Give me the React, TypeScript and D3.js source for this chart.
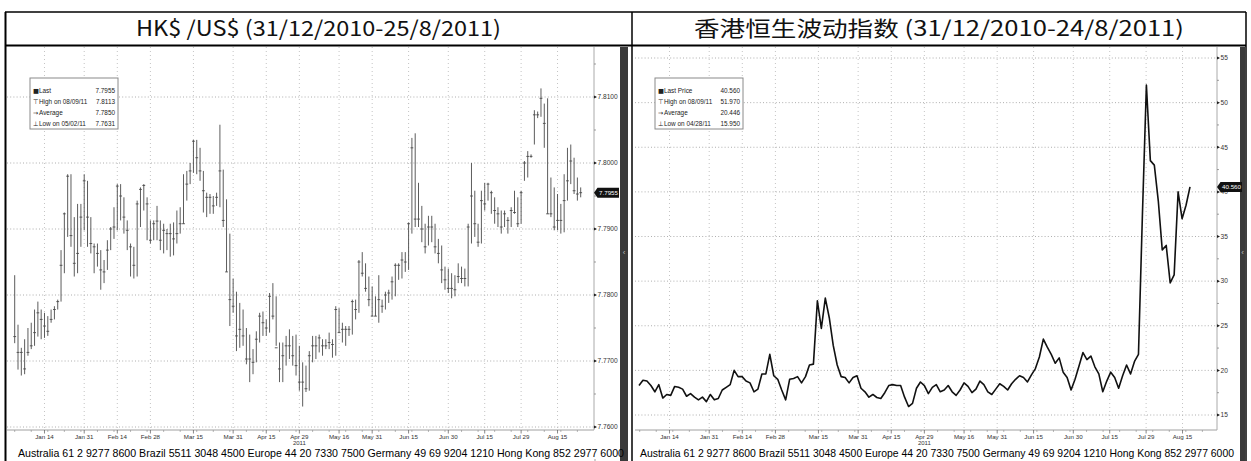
import React from "react";
import * as d3 from "d3";

const W = 1251;
const H = 461;

const leftTitle = "HK$ /US$ (31/12/2010-25/8/2011)";
const rightTitle = "香港恒生波动指数 (31/12/2010-24/8/2011)";
const footer =
  "Australia 61 2 9277 8600 Brazil 5511 3048 4500 Europe 44 20 7330 7500 Germany 49 69 9204 1210 Hong Kong 852 2977 6000";

const xTickLabels = ["Jan 14", "Jan 31", "Feb 14", "Feb 28", "Mar 15", "Mar 31", "Apr 15", "Apr 29", "May 16", "May 31", "Jun 15", "Jun 30", "Jul 15", "Jul 29", "Aug 15"];
const xTickIdx = [9, 21, 31, 41, 54, 66, 76, 86, 98, 108, 119, 131, 142, 153, 164];
const yearLabel = "2011";
const yearTickPos = 7;

// HK$/US$ daily bars (high, low, close)
const hkHigh = [
  7.7830, 7.7755, 7.7720, 7.7733, 7.7750, 7.7758, 7.7778, 7.7790, 7.7778, 7.7773,
  7.7768, 7.7778, 7.7783, 7.7793, 7.7868, 7.7925, 7.7983, 7.7983, 7.7918, 7.7938,
  7.7938, 7.7983, 7.7973, 7.7918, 7.7878, 7.7878, 7.7868, 7.7853, 7.7883, 7.7903,
  7.7933, 7.7968, 7.7968, 7.7948, 7.7913, 7.7878, 7.7873, 7.7943, 7.7963, 7.7968,
  7.7948, 7.7913, 7.7913, 7.7935, 7.7913, 7.7908, 7.7900, 7.7908, 7.7910, 7.7928,
  7.7933, 7.7983, 7.7988, 7.8000, 7.8035, 7.8035, 7.8023, 7.7988,
  7.7955, 7.7953, 7.7950, 7.7955, 7.8058, 7.7990, 7.7945, 7.7893, 7.7825, 7.7805,
  7.7788, 7.7778, 7.7750, 7.7740, 7.7718, 7.7745, 7.7773, 7.7775, 7.7763, 7.7803,
  7.7818, 7.7798, 7.7728, 7.7728, 7.7738, 7.7748, 7.7738, 7.7740, 7.7723, 7.7698,
  7.7693, 7.7715, 7.7738, 7.7738, 7.7740, 7.7733, 7.7733, 7.7743, 7.7733, 7.7783,
  7.7780, 7.7758, 7.7753, 7.7753, 7.7793, 7.7793, 7.7853, 7.7865, 7.7848, 7.7828,
  7.7813, 7.7798, 7.7830, 7.7793, 7.7805, 7.7808, 7.7828, 7.7848,
  7.7848, 7.7865, 7.7865, 7.7910, 7.8038, 7.8045, 7.7970, 7.7935, 7.7908, 7.7920,
  7.7920, 7.7908, 7.7885, 7.7875, 7.7843, 7.7840, 7.7833, 7.7830, 7.7848, 7.7843,
  7.7840, 7.7908, 7.8000, 7.7958, 7.7908, 7.7958, 7.7970, 7.7970, 7.7958, 7.7948,
  7.7933, 7.7928, 7.7928, 7.7918, 7.7933, 7.7958, 7.7948, 7.7958, 7.8003, 7.8018,
  7.8013, 7.8080, 7.8078, 7.8113, 7.8090, 7.8098, 7.7978, 7.7963, 7.7953, 7.7938,
  7.7983, 7.8023, 7.8028, 7.8008, 7.7978, 7.7963,
];
const hkLow = [
  7.7727, 7.7687, 7.7678, 7.7680, 7.7708, 7.7718, 7.7723, 7.7737, 7.7733, 7.7735,
  7.7738, 7.7758, 7.7763, 7.7778, 7.7790, 7.7833, 7.7888, 7.7873, 7.7828, 7.7833,
  7.7873, 7.7898, 7.7873, 7.7863, 7.7833, 7.7843, 7.7808, 7.7818, 7.7838, 7.7868,
  7.7885, 7.7898, 7.7913, 7.7893, 7.7868, 7.7828, 7.7825, 7.7828, 7.7903, 7.7928,
  7.7883, 7.7878, 7.7883, 7.7883, 7.7868, 7.7863, 7.7868, 7.7858, 7.7860, 7.7878,
  7.7893, 7.7908, 7.7943, 7.7968, 7.7985, 7.7983, 7.7973, 7.7925,
  7.7918, 7.7923, 7.7923, 7.7935, 7.7933, 7.7903, 7.7835, 7.7753, 7.7773, 7.7715,
  7.7720, 7.7723, 7.7695, 7.7668, 7.7680, 7.7698, 7.7728, 7.7738, 7.7738, 7.7743,
  7.7763, 7.7723, 7.7668, 7.7668, 7.7693, 7.7703, 7.7693, 7.7678, 7.7655, 7.7631,
  7.7653, 7.7655, 7.7698, 7.7703, 7.7713, 7.7708, 7.7718, 7.7718, 7.7705, 7.7708,
  7.7743, 7.7728, 7.7723, 7.7738, 7.7740, 7.7763, 7.7773, 7.7828, 7.7805, 7.7783,
  7.7768, 7.7768, 7.7758, 7.7773, 7.7778, 7.7788, 7.7793, 7.7798,
  7.7823, 7.7825, 7.7835, 7.7838, 7.7893, 7.7903, 7.7903, 7.7880, 7.7863, 7.7875,
  7.7880, 7.7863, 7.7848, 7.7818, 7.7808, 7.7803, 7.7795, 7.7798, 7.7818, 7.7818,
  7.7813, 7.7813, 7.7878, 7.7888, 7.7873, 7.7878, 7.7928, 7.7943, 7.7923, 7.7908,
  7.7903, 7.7893, 7.7903, 7.7893, 7.7903, 7.7923, 7.7903, 7.7908, 7.7973, 7.7978,
  7.8008, 7.8028, 7.8068, 7.8070, 7.8023, 7.7923, 7.7918, 7.7898, 7.7898, 7.7893,
  7.7895, 7.7943, 7.7968, 7.7953, 7.7943, 7.7948,
];
const hkClose = [
  7.7737, 7.7713, 7.7713, 7.7688, 7.7713, 7.7723, 7.7743, 7.7773, 7.7763, 7.7753,
  7.7745, 7.7763, 7.7778, 7.7790, 7.7845, 7.7923, 7.7980, 7.7890, 7.7848, 7.7863,
  7.7918, 7.7973, 7.7918, 7.7878, 7.7873, 7.7863, 7.7838, 7.7835, 7.7868, 7.7900,
  7.7903, 7.7965, 7.7950, 7.7918, 7.7898, 7.7873, 7.7845, 7.7938, 7.7960, 7.7966,
  7.7938, 7.7883, 7.7908, 7.7912, 7.7883, 7.7898, 7.7893, 7.7893, 7.7885, 7.7893,
  7.7908, 7.7908, 7.7968, 7.7988, 7.8033, 7.8008, 7.7988, 7.7958,
  7.7948, 7.7948, 7.7935, 7.7948, 7.7988, 7.7913, 7.7835, 7.7793, 7.7783, 7.7738,
  7.7748, 7.7738, 7.7703, 7.7703, 7.7698, 7.7733, 7.7768, 7.7758, 7.7750, 7.7798,
  7.7768, 7.7720, 7.7688, 7.7708, 7.7723, 7.7723, 7.7708, 7.7693, 7.7668, 7.7668,
  7.7658, 7.7708, 7.7723, 7.7723, 7.7735, 7.7723, 7.7723, 7.7728, 7.7725, 7.7778,
  7.7743, 7.7748, 7.7748, 7.7748, 7.7790, 7.7778, 7.7850, 7.7833, 7.7810, 7.7793,
  7.7768, 7.7768, 7.7793, 7.7783, 7.7800, 7.7803, 7.7820, 7.7845,
  7.7845, 7.7853, 7.7850, 7.7908, 7.8023, 7.7915, 7.7915, 7.7900, 7.7873, 7.7903,
  7.7903, 7.7873, 7.7863, 7.7838, 7.7823, 7.7810, 7.7810, 7.7808, 7.7828, 7.7825,
  7.7825, 7.7903, 7.7950, 7.7908, 7.7880, 7.7943, 7.7938, 7.7968, 7.7955, 7.7928,
  7.7923, 7.7903, 7.7923, 7.7913, 7.7928, 7.7925, 7.7908, 7.7955, 7.8000, 7.8010,
  7.8010, 7.8073, 7.8073, 7.8098, 7.8060, 7.7923, 7.7923, 7.7903, 7.7913, 7.7913,
  7.7943, 7.7973, 7.8003, 7.7958, 7.7953, 7.7955,
];
const hkTicks = [7.76, 7.77, 7.78, 7.79, 7.8, 7.81];
const hkTickText = ["7.7600", "7.7700", "7.7800", "7.7900", "7.8000", "7.8100"];
const hkLast = 7.7955;
const hkLastText = "7.7955";
const hkLegend = [
  ["■", "Last", "7.7955"],
  ["⊤", "High on 08/09/11", "7.8113"],
  ["→", "Average", "7.7850"],
  ["⊥", "Low on 05/02/11", "7.7631"],
];

// HSI volatility index
const vhsi = [
  18.3, 18.9, 18.8, 18.3, 17.6, 18.4, 16.9, 17.3, 17.2, 18.2,
  18.1, 17.9, 17.1, 17.4, 17.0, 16.7, 17.0, 16.5, 17.3, 16.7,
  16.85, 17.8, 18.1, 18.4, 20.0, 19.3, 19.3, 18.8, 18.6, 17.6,
  17.9, 19.6, 19.6, 21.8, 19.4, 19.0, 17.8, 16.7, 19.0, 19.1,
  19.3, 18.6, 19.3, 20.6, 20.7, 27.8, 24.7, 28.1, 25.9, 22.8,
  20.6, 19.3, 19.2, 18.6, 19.2, 19.4, 18.0, 17.6, 17.0, 17.3,
  16.96, 16.85, 17.5, 18.3, 18.4, 18.3, 18.3, 17.0, 15.95, 16.3,
  18.0, 18.7, 18.3, 17.4, 18.1, 18.4, 17.6,
  17.8, 18.3, 17.6, 17.2, 17.8, 18.6, 18.2, 17.5, 17.9, 18.8,
  18.4, 17.6, 17.3, 17.9, 18.5,
  18.2, 17.8, 18.5, 19.0, 19.4, 19.2, 18.7, 19.5, 20.2,
  21.5, 23.5, 22.6, 21.8,
  20.8, 21.4, 19.8, 19.2, 17.8,
  19.0, 20.5, 22.0, 21.2, 21.6, 20.4, 19.6,
  17.6, 18.8, 19.8, 19.2, 18.0, 19.4, 20.6, 19.6, 21.0, 21.8,
  37.5, 51.97,
  43.5, 43.0, 39.0, 33.5, 34.0, 29.8, 30.7, 40.0, 37.0, 38.5, 40.56,
];
const vTicks = [15, 20, 25, 30, 35, 40, 45, 50, 55];
const vLast = 40.56;
const vLastText = "40.560";
const vLegend = [
  ["■", "Last Price", "40.560"],
  ["⊤", "High on 08/09/11", "51.970"],
  ["→", "Average", "20.446"],
  ["⊥", "Low on 04/28/11", "15.950"],
];

const SMALL = "'Liberation Sans Narrow', 'Liberation Sans', 'DejaVu Sans Condensed', sans-serif";

type PanelProps = {
  id: string;
  left: number;
  axisX: number;
  top: number;
  bottom: number;
  tickX: (i: number) => number;
  yScale: d3.ScaleLinear<number, number>;
  yTicks: number[];
  yTickText: string[];
  yMinor: number[];
  lastVal: number;
  lastText: string;
  legend: string[][];
  legendX: number;
  legendW: number;
  scrollX: number;
  scrollW: number;
  children: React.ReactNode;
};

function Panel(p: PanelProps) {
  const weekIdx = d3.range(0, 172, 5);
  return (
    <g>
      <defs>
        <clipPath id={`clip-${p.id}`}>
          <rect x={p.left} y={p.top} width={p.axisX - p.left} height={p.bottom - p.top} />
        </clipPath>
      </defs>
      {p.yTicks.map((t, i) => (
        <line key={`gy${i}`} x1={p.left} x2={p.axisX} y1={p.yScale(t)} y2={p.yScale(t)} stroke="#9a9a9a" strokeWidth={0.8} strokeDasharray="1,2.2" />
      ))}
      {xTickIdx.map((t, i) => (
        <line key={`gx${i}`} x1={p.tickX(t)} x2={p.tickX(t)} y1={p.top} y2={p.bottom} stroke="#b5b5b5" strokeWidth={0.8} strokeDasharray="1,3" />
      ))}
      <g clipPath={`url(#clip-${p.id})`}>{p.children}</g>
      <line x1={p.left} x2={p.axisX} y1={p.bottom} y2={p.bottom} stroke="#888" strokeWidth={0.8} />
      {weekIdx.map((t, i) => (
        <line key={`xt${i}`} x1={p.tickX(t)} x2={p.tickX(t)} y1={p.bottom} y2={p.bottom + 2} stroke="#888" strokeWidth={0.6} />
      ))}
      {xTickIdx.map((t, i) => (
        <g key={`xl${i}`}>
          <line x1={p.tickX(t)} x2={p.tickX(t)} y1={p.bottom} y2={p.bottom + 3.5} stroke="#555" strokeWidth={0.7} />
          <text x={p.tickX(t)} y={p.bottom + 8.5} fontSize={6.2} fill="#333" textAnchor="middle" fontFamily={SMALL}>
            {xTickLabels[i]}
          </text>
        </g>
      ))}
      <text x={p.tickX(xTickIdx[yearTickPos])} y={p.bottom + 15} fontSize={6} fill="#333" textAnchor="middle" fontFamily={SMALL}>
        {yearLabel}
      </text>
      <line x1={p.axisX} x2={p.axisX} y1={p.top} y2={p.bottom} stroke="#aaa" strokeWidth={1} />
      {p.yMinor.map((t, i) => (
        <line key={`ym${i}`} x1={p.axisX} x2={p.axisX + 2} y1={p.yScale(t)} y2={p.yScale(t)} stroke="#777" strokeWidth={0.7} />
      ))}
      {p.yTicks.map((t, i) => (
        <g key={`yl${i}`}>
          <path d={`M${p.axisX},${p.yScale(t) - 1.5} L${p.axisX + 3},${p.yScale(t)} L${p.axisX},${p.yScale(t) + 1.5} Z`} fill="#222" />
          <text x={p.axisX + 3.5} y={p.yScale(t) + 2.3} fontSize={6.6} fill="#333" fontFamily={SMALL}>
            {p.yTickText[i]}
          </text>
        </g>
      ))}
      <rect x={p.scrollX} y={p.top} width={p.scrollW} height={H - p.top} fill="#3a3a3a" />
      <text x={p.scrollX + p.scrollW / 2} y={255} fontSize={8} fill="#bbb" textAnchor="middle" fontFamily={SMALL}>‹</text>
      <path
        d={`M${p.axisX},${p.yScale(p.lastVal)} L${p.axisX + 3.5},${p.yScale(p.lastVal) - 5} H${p.axisX + 25} V${p.yScale(p.lastVal) + 5} H${p.axisX + 3.5} Z`}
        fill="#111"
      />
      <text x={p.axisX + 14.5} y={p.yScale(p.lastVal) + 2.2} fontSize={6.2} fill="#fff" textAnchor="middle" fontFamily={SMALL}>
        {p.lastText}
      </text>
      <rect x={p.legendX} y={78} width={p.legendW} height={51} fill="#fff" stroke="#8a8a8a" strokeWidth={1} />
      {p.legend.map((row, i) => (
        <g key={`lg${i}`}>
          <text x={p.legendX + 3} y={92.5 + i * 11} fontSize={6.3} fill="#222" fontFamily="'DejaVu Sans', sans-serif">
            {row[0]}
          </text>
          <text x={p.legendX + 9} y={92.5 + i * 11} fontSize={6.4} fill="#222" fontFamily={SMALL}>
            {row[1]}
          </text>
          <text x={p.legendX + p.legendW - 3} y={92.5 + i * 11} fontSize={6.4} fill="#222" textAnchor="end" fontFamily={SMALL}>
            {row[2]}
          </text>
        </g>
      ))}
    </g>
  );
}

export default function App() {
  const xL = d3.scaleLinear().domain([0, hkHigh.length - 1]).range([14.7, 580.7]);
  const yL = d3.scaleLinear().domain([7.76, 7.81]).range([427, 97]);
  const xR = d3.scaleLinear().domain([0, vhsi.length - 1]).range([639, 1190]);
  const xRT = (i: number) => xL(i) + 625;
  const yR = d3.scaleLinear().domain([15, 55]).range([415, 58]);
  const linePath = d3
    .line<number>()
    .x((_, i) => xR(i))
    .y((d) => yR(d))(vhsi) as string;

  const hkMinor = d3.range(7.755, 7.815, 0.005);
  const vMinor = d3.range(15, 56, 2.5);

  return (
    <svg width={W} height={H} style={{ position: "absolute", left: 0, top: 0, background: "#fff" }}>
      <rect x={0} y={0} width={W} height={H} fill="#fff" />
      <Panel
        id="L"
        left={7}
        axisX={594}
        top={47}
        bottom={430}
        tickX={xL}
        yScale={yL}
        yTicks={hkTicks}
        yTickText={hkTickText}
        yMinor={hkMinor}
        lastVal={hkLast}
        lastText={hkLastText}
        legend={hkLegend}
        legendX={30}
        legendW={88}
        scrollX={620}
        scrollW={8}
      >
        {hkHigh.map((h, i) => (
          <g key={`b${i}`}>
            <line x1={xL(i)} x2={xL(i)} y1={yL(h)} y2={yL(hkLow[i])} stroke="#4a4a4a" strokeWidth={0.9} />
            <line x1={xL(i) - 1.4} x2={xL(i) + 1.4} y1={yL(hkClose[i])} y2={yL(hkClose[i])} stroke="#4a4a4a" strokeWidth={0.9} />
          </g>
        ))}
      </Panel>
      <Panel
        id="R"
        left={635}
        axisX={1217}
        top={47}
        bottom={430}
        tickX={xRT}
        yScale={yR}
        yTicks={vTicks}
        yTickText={vTicks.map(String)}
        yMinor={vMinor}
        lastVal={vLast}
        lastText={vLastText}
        legend={vLegend}
        legendX={655}
        legendW={88}
        scrollX={1240}
        scrollW={5}
      >
        <path d={linePath} fill="none" stroke="#111" strokeWidth={1.6} strokeLinejoin="round" />
      </Panel>

      <text x={18} y={456.5} fontSize={10.6} fill="#000" fontFamily={SMALL} textLength={606} lengthAdjust="spacingAndGlyphs">
        {footer}
      </text>
      <text x={640} y={456.5} fontSize={10.6} fill="#000" fontFamily={SMALL} textLength={594} lengthAdjust="spacingAndGlyphs">
        {footer}
      </text>

      <rect x={5} y={12} width={1241} height={33} fill="#fff" />
      <text x={318.5} y={36} fontSize={21} fill="#111" textAnchor="middle" fontFamily="'Noto Sans CJK SC', sans-serif" textLength={365} lengthAdjust="spacingAndGlyphs">
        {leftTitle}
      </text>
      <text x={939} y={36} fontSize={21} fill="#111" textAnchor="middle" fontFamily="'Noto Sans CJK SC', sans-serif" textLength={490} lengthAdjust="spacingAndGlyphs">
        {rightTitle}
      </text>
      <line x1={5} x2={1246} y1={12} y2={12} stroke="#000" strokeWidth={1.5} />
      <line x1={5} x2={1246} y1={45.5} y2={45.5} stroke="#000" strokeWidth={2.2} />
      <line x1={5.5} x2={5.5} y1={12} y2={H} stroke="#000" strokeWidth={2} />
      <line x1={632} x2={632} y1={12} y2={H} stroke="#000" strokeWidth={1.5} />
      <line x1={1246} x2={1246} y1={12} y2={H} stroke="#000" strokeWidth={1.5} />
    </svg>
  );
}
